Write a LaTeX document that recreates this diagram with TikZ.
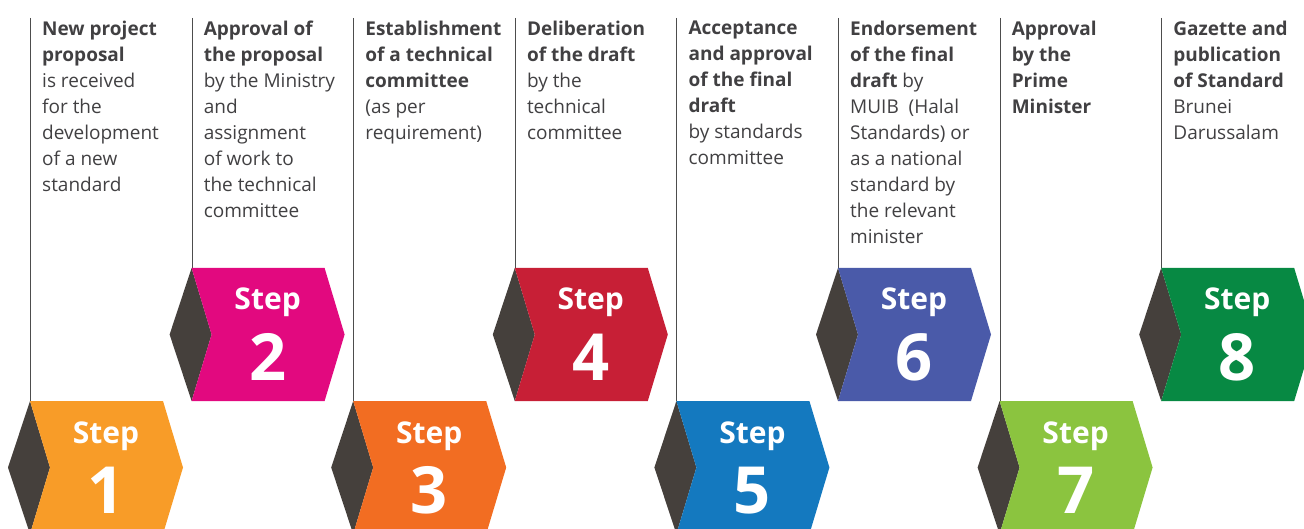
\documentclass[tikz,border=0pt]{standalone}
\usepackage{fontspec}
\setmainfont{Open Sans}
\definecolor{kite}{HTML}{45403C}
\definecolor{txtgray}{HTML}{414042}
\definecolor{rulegray}{HTML}{4D4D4D}
\definecolor{stepA}{HTML}{F89C28}
\definecolor{stepB}{HTML}{E2097F}
\definecolor{stepC}{HTML}{F26D22}
\definecolor{stepD}{HTML}{C71F36}
\definecolor{stepE}{HTML}{1479BF}
\definecolor{stepF}{HTML}{4A5AA9}
\definecolor{stepG}{HTML}{8BC43F}
\definecolor{stepH}{HTML}{078943}
\begin{document}
\begin{tikzpicture}[x=1pt,y=-1pt,
    desc/.style={anchor=north west,inner sep=0pt,align=left,text=txtgray,
        font=\fontsize{19}{26}\selectfont,execute at begin node=\strut},
    steplbl/.style={anchor=base,inner sep=0pt,text=white,font=\bfseries\fontsize{30}{30}\selectfont},
    stepnum/.style={anchor=base,inner sep=0pt,text=white,font=\bfseries\fontsize{65}{65}\selectfont},
    rule/.style={draw=rulegray,line width=1pt}]
\useasboundingbox (0,0) rectangle (1304,529);

% the eight steps, odd ones low, even ones high
\foreach \i/\col/\ty in {1/stepA/401,2/stepB/268,3/stepC/401,4/stepD/268,
                         5/stepE/401,6/stepF/268,7/stepG/401,8/stepH/268}
{
    \pgfmathsetmacro{\lx}{30+(\i-1)*161.6}
    \coordinate (top\i) at (\lx+0.5,18);
    \coordinate (box\i) at (\lx+0.5,\ty);
    \draw[rule] (top\i) -- (box\i);
    \fill[kite] (\lx-22,\ty+66.5) -- (\lx,\ty) -- (\lx+20,\ty+66.5) -- (\lx,\ty+133) -- cycle;
    \fill[\col] (\lx,\ty) -- ++(133,0) -- ++(20,66.5) -- ++(-20,66.5) -- ++(-133,0) -- ++(20,-66.5) -- cycle;
    \node[steplbl] (s\i) at (\lx+76,\ty+42) {Step};
    \node[stepnum] (n\i) at (\lx+76,\ty+112) {\i};
}

% descriptions
\node[desc] (d1) at (42,21) {\textbf{New project}\\\textbf{proposal}\\is received\\for the\\development\\of a new\\standard};
\node[desc] (d2) at (203.6,21) {\textbf{Approval of}\\\textbf{the proposal}\\by the Ministry\\and\\assignment\\of work to\\the technical\\committee};
\node[desc] (d3) at (365.2,21) {\textbf{Establishment}\\\textbf{of a technical}\\\textbf{committee}\\(as per\\requirement)};
\node[desc] (d4) at (526.8,21) {\textbf{Deliberation}\\\textbf{of the draft}\\by the\\technical\\committee};
\node[desc] (d5) at (688.4,21) {\textbf{Acceptance}\\\textbf{and approval}\\\textbf{of the final}\\\textbf{draft}\\by standards\\committee};
\node[desc] (d6) at (850,21) {\textbf{Endorsement}\\\textbf{of the final}\\\textbf{draft} by\\MUIB~ (Halal\\Standards) or\\as a national\\standard by\\the relevant\\minister};
\node[desc] (d7) at (1011.6,21) {\textbf{Approval}\\\textbf{by the}\\\textbf{Prime}\\\textbf{Minister}};
\node[desc] (d8) at (1173.2,21) {\textbf{Gazette and}\\\textbf{publication}\\\textbf{of Standard}\\Brunei\\Darussalam};
\end{tikzpicture}
\end{document}
